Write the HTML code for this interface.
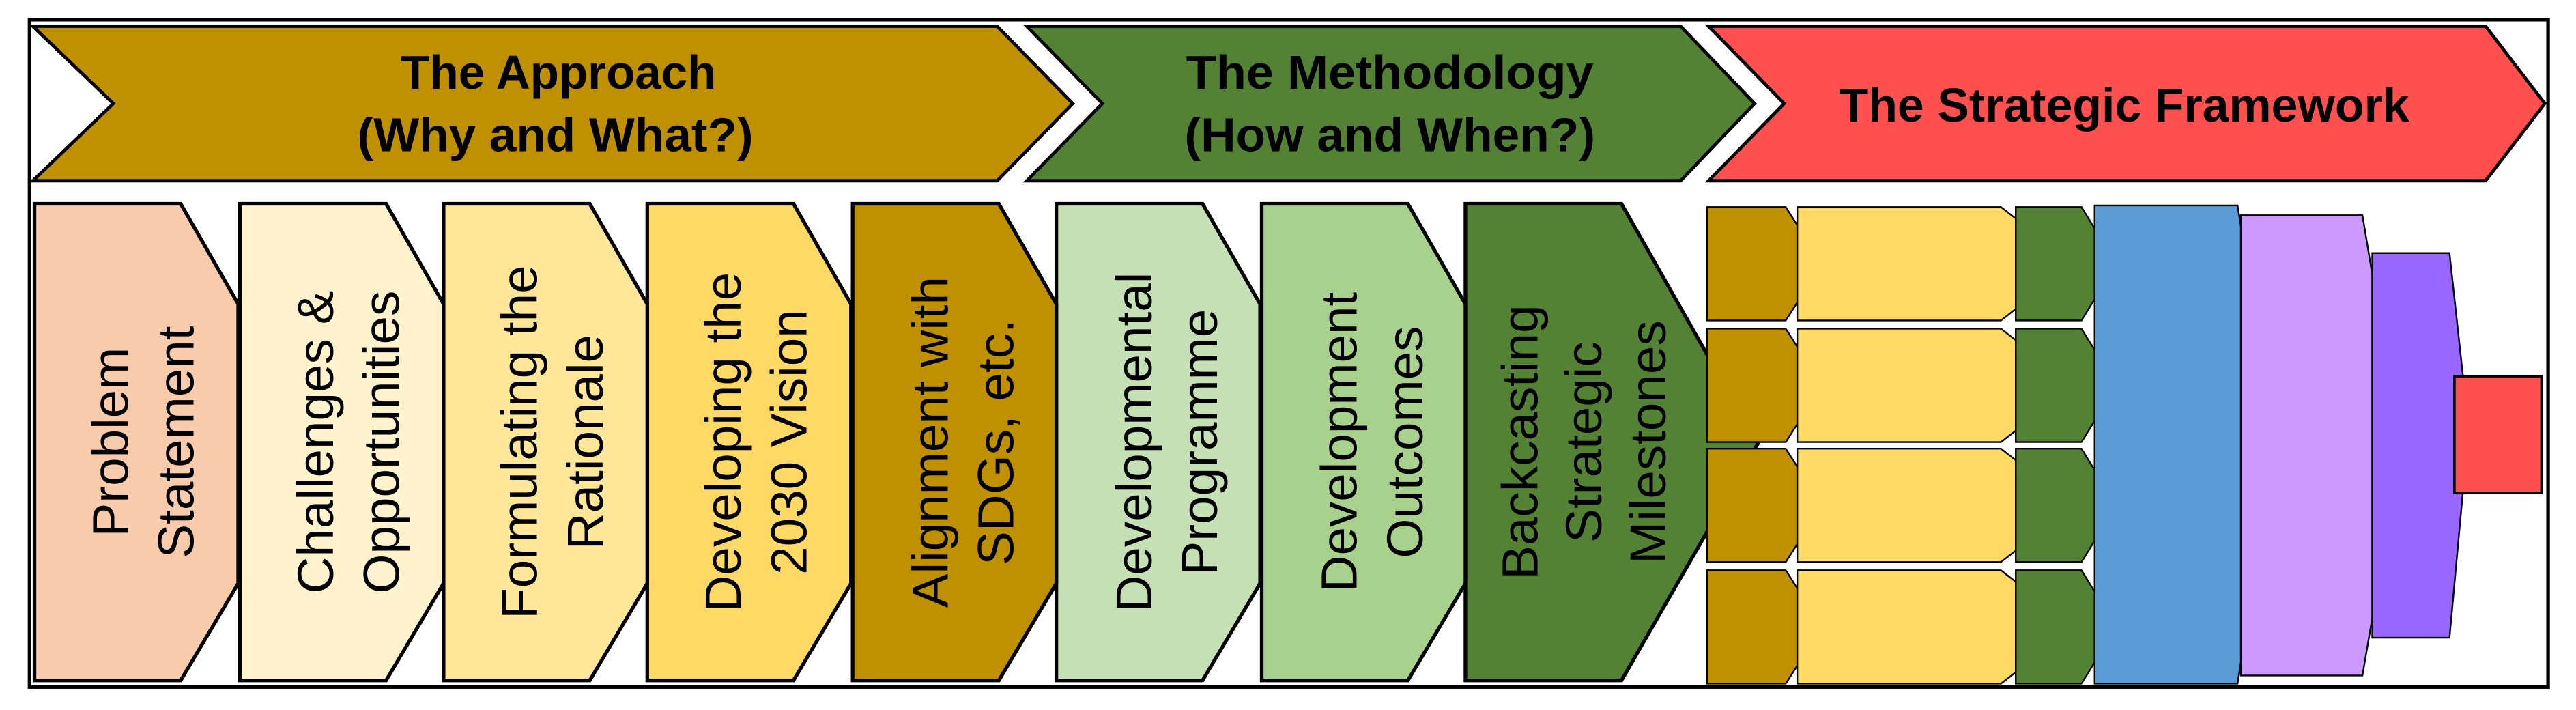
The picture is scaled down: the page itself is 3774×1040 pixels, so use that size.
<!DOCTYPE html>
<html><head><meta charset="utf-8"><style>html,body{margin:0;padding:0;background:#fff}svg{display:block}</style></head><body>
<svg width="3774" height="1040" viewBox="0 0 1568 432" preserveAspectRatio="none" xmlns="http://www.w3.org/2000/svg">
<rect x="0" y="0" width="1568" height="432" fill="#fff"/>
<rect x="18" y="12" width="1533" height="406" fill="#fff" stroke="#000" stroke-width="2.2"/>
<g stroke="#000" stroke-width="2" stroke-linejoin="miter">
<polygon points="20,16 607,16 653,63 607,110 20,110 69,63" fill="#BF9000"/>
<polygon points="625,16 1023,16 1068,63 1023,110 625,110 671,63" fill="#548235"/>
<polygon points="1040,16 1513,16 1549,63 1513,110 1040,110 1086,63" fill="#FF5050"/>
</g>
<g font-family="Liberation Sans, sans-serif" font-weight="bold" font-size="29" text-anchor="middle" fill="#000">
<text x="340" y="54" textLength="192" lengthAdjust="spacingAndGlyphs">The Approach</text>
<text x="338" y="92" textLength="241" lengthAdjust="spacingAndGlyphs">(Why and What?)</text>
<text x="846" y="54" textLength="248" lengthAdjust="spacingAndGlyphs">The Methodology</text>
<text x="846" y="92" textLength="250" lengthAdjust="spacingAndGlyphs">(How and When?)</text>
<text x="1293" y="74" textLength="347" lengthAdjust="spacingAndGlyphs">The Strategic Framework</text>
</g>
<g stroke="#000" stroke-width="2.2">
<polygon points="892,124 987,124 1070,270 987,414 892,414" fill="#548235"/>
<polygon points="768,124 857,124 892,185 892,355 857,414 768,414" fill="#A9D18E"/>
<polygon points="643,124 732,124 767,185 767,355 732,414 643,414" fill="#C5E0B4"/>
<polygon points="519,124 608,124 643,185 643,355 608,414 519,414" fill="#BF9000"/>
<polygon points="394,124 483,124 518,185 518,355 483,414 394,414" fill="#FFD966"/>
<polygon points="270,124 359,124 394,185 394,355 359,414 270,414" fill="#FFE699"/>
<polygon points="146,124 235,124 270,185 270,355 235,414 146,414" fill="#FFF2CC"/>
<polygon points="21,124 110,124 145,185 145,355 110,414 21,414" fill="#F8CBAD"/>
</g>
<g font-family="Liberation Sans, sans-serif" font-size="31" text-anchor="middle" fill="#000" dominant-baseline="central">
<g transform="translate(87,269) rotate(-90)"><text y="-20">Problem</text><text y="20">Statement</text></g>
<g transform="translate(212,269) rotate(-90)"><text y="-20">Challenges &amp;</text><text y="20">Opportunities</text></g>
<g transform="translate(336,269) rotate(-90)"><text y="-20">Formulating the</text><text y="20">Rationale</text></g>
<g transform="translate(460,269) rotate(-90)"><text y="-20">Developing the</text><text y="20">2030 Vision</text></g>
<g transform="translate(586,269) rotate(-90)"><text y="-20">Alignment with</text><text y="20">SDGs, etc.</text></g>
<g transform="translate(710,269) rotate(-90)"><text y="-20">Developmental</text><text y="20">Programme</text></g>
<g transform="translate(835,269) rotate(-90)"><text y="-20">Development</text><text y="20">Outcomes</text></g>
<g transform="translate(964,269) rotate(-90)"><text y="-39">Backcasting</text><text y="0">Strategic</text><text y="39">Milestones</text></g>
</g>
<g stroke="#000" stroke-width="1">
<g id="r1">
<polygon points="1039,126 1087,126 1094,137 1094,184 1087,195 1039,195" fill="#BF9000"/>
<polygon points="1094,126 1218,126 1227,133 1227,188 1218,195 1094,195" fill="#FFD966"/>
<polygon points="1227,126 1267,126 1275,139 1275,182 1267,195 1227,195" fill="#548235"/>
</g>
<use href="#r1" transform="translate(0,74)"/>
<use href="#r1" transform="translate(0,147)"/>
<use href="#r1" transform="translate(0,221)"/>
<polygon points="1275,125 1362,125 1366,150 1366,390 1362,416 1275,416" fill="#5B9BD5"/>
<polygon points="1364,131 1438,131 1444,167 1444,376 1438,411 1364,411" fill="#CC99FF"/>
<polygon points="1444,154 1491,154 1499,227 1502,264 1499,301 1491,388 1444,388" fill="#9966FF"/>
<rect x="1494" y="229" width="53" height="71" fill="#FF5050" stroke-width="1.5"/>
</g>
</svg>
</body></html>
